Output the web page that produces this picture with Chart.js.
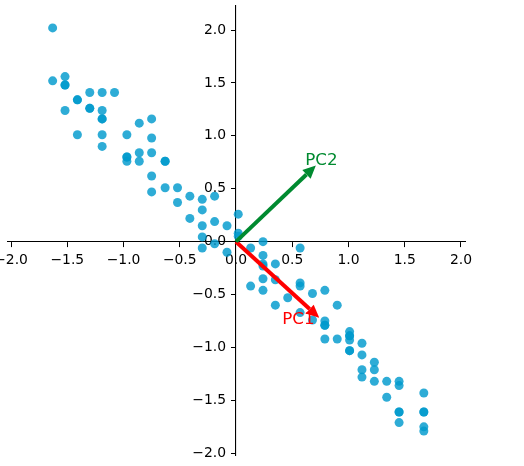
<!DOCTYPE html>
<html>
<head>
<meta charset="utf-8">
<script src="https://cdn.jsdelivr.net/npm/chart.js@4.4.1/dist/chart.umd.min.js"></script>
<style>
  html, body { margin: 0; padding: 0; background: #fff; }
  #area { width: 524px; height: 466px; }
</style>
</head>
<body>
<div id="area"><canvas id="grafico" width="524" height="466"></canvas></div>
<script>
// Pontos (pares repetidos = pontos sobrepostos)
const pontosX = [
  -1.63, -1.63, -1.52, -1.52, -1.52, -1.41, -1.41, -1.52, -1.30, -1.19,
  -1.08, -1.30, -1.30, -1.19, -1.19, -1.19, -1.41, -1.19, -1.19, -0.97,
  -0.86, -0.75, -0.75, -0.97, -0.97, -0.97, -0.86, -0.86, -0.75, -0.63,
  -0.63, -0.75, -0.75, -0.63, -0.52, -0.52, -0.41, -0.30, -0.19, -0.30,
  -0.41, -0.30, -0.19, -0.08, 0.02, 0.02, 0.02, -0.30, -0.30, -0.19,
  -0.08, 0.13, 0.24, 0.57, 0.24, 0.24, 0.24, 0.35, 0.24, 0.35,
  0.13, 0.24, 0.57, 0.57, 0.46, 0.35, 0.68, 0.79, 0.90, 0.57,
  0.68, 0.79, 0.79, 0.79, 0.79, 0.90, 1.01, 1.01, 1.01, 1.01,
  1.01, 1.01, 1.12, 1.12, 1.12, 1.12, 1.23, 1.23, 1.23, 1.34,
  1.34, 1.45, 1.45, 1.45, 1.45, 1.45, 1.67, 1.67, 1.67, 1.67,
  1.67
];
const pontosY = [
  2.02, 1.52, 1.56, 1.48, 1.48, 1.34, 1.34, 1.24, 1.41, 1.41,
  1.41, 1.26, 1.26, 1.24, 1.16, 1.16, 1.01, 1.01, 0.90, 1.01,
  1.12, 1.16, 0.98, 0.80, 0.80, 0.76, 0.84, 0.76, 0.84, 0.76,
  0.76, 0.62, 0.47, 0.51, 0.51, 0.37, 0.43, 0.40, 0.43, 0.30,
  0.22, 0.15, 0.19, 0.15, 0.26, 0.08, 0.05, 0.045, -0.06, -0.02,
  -0.10, -0.06, 0.00, -0.06, -0.13, -0.21, -0.23, -0.21, -0.35, -0.36,
  -0.42, -0.46, -0.39, -0.42, -0.53, -0.60, -0.49, -0.46, -0.60, -0.67,
  -0.74, -0.75, -0.79, -0.79, -0.92, -0.92, -0.85, -0.89, -0.89, -0.93,
  -1.03, -1.03, -0.96, -1.07, -1.21, -1.28, -1.14, -1.21, -1.32, -1.32,
  -1.47, -1.32, -1.36, -1.61, -1.61, -1.71, -1.43, -1.61, -1.61, -1.75,
  -1.79
];

// Setas das componentes principais
const setaNomes = ['PC1', 'PC2'];
const setaFimX = [0.74, 0.71];
const setaFimY = [-0.72, 0.72];
const rotuloX = [0.555, 0.76];
const rotuloY = [-0.74, 0.77];
const setaCores = ['#ff0000', '#008a30'];

// Marcas dos eixos
const ticksX = [-2.0, -1.5, -1.0, -0.5, 0.0, 0.5, 1.0, 1.5, 2.0];
const ticksY = [-2.0, -1.5, -1.0, -0.5, 0.0, 0.5, 1.0, 1.5, 2.0];

Chart.defaults.font.family = '"DejaVu Sans", sans-serif';

function formatar(v) {
  return v.toFixed(1).replace('-', '\u2212');
}

// Desenha as setas e os rótulos por cima dos pontos
const pluginSetas = {
  id: 'setas',
  afterLayout(chart) {
    // eixo y passa pelo x = 0 (left = 0 para não cortar os rótulos)
    const { x, y } = chart.scales;
    y.left = 0;
    y.right = x.getPixelForValue(0);
    y._labelItems = null;
    y._gridLineItems = null;
  },
  afterDatasetsDraw(chart) {
    const { ctx, scales: { x, y } } = chart;
    ctx.save();
    setaNomes.forEach((nome, i) => {
      const x0 = x.getPixelForValue(0);
      const y0 = y.getPixelForValue(0);
      const x1 = x.getPixelForValue(setaFimX[i]);
      const y1 = y.getPixelForValue(setaFimY[i]);
      const ang = Math.atan2(y1 - y0, x1 - x0);
      const compCabeca = 13;
      const meiaLarg = 6;
      const bx = x1 - compCabeca * Math.cos(ang);
      const by = y1 - compCabeca * Math.sin(ang);

      ctx.strokeStyle = setaCores[i];
      ctx.fillStyle = setaCores[i];
      ctx.lineWidth = 4;
      ctx.lineCap = 'butt';
      ctx.beginPath();
      ctx.moveTo(x0, y0);
      ctx.lineTo(bx, by);
      ctx.stroke();

      ctx.beginPath();
      ctx.moveTo(x1, y1);
      ctx.lineTo(bx + meiaLarg * Math.sin(ang), by - meiaLarg * Math.cos(ang));
      ctx.lineTo(bx - meiaLarg * Math.sin(ang), by + meiaLarg * Math.cos(ang));
      ctx.closePath();
      ctx.fill();

      ctx.font = '16.7px "DejaVu Sans"';
      ctx.textAlign = 'center';
      ctx.textBaseline = 'middle';
      ctx.fillText(nome, x.getPixelForValue(rotuloX[i]), y.getPixelForValue(rotuloY[i]));
    });
    ctx.restore();
  }
};

function zerarEspaco(s) {
  if (s.isHorizontal()) s.height = 0; else s.width = 0;
  s.paddingLeft = 0;
  s.paddingRight = 0;
  s.paddingTop = 0;
  s.paddingBottom = 0;
}

new Chart(document.getElementById('grafico'), {
  type: 'scatter',
  data: {
    datasets: [{
      data: pontosX.map((v, i) => ({ x: v, y: pontosY[i] })),
      backgroundColor: 'rgba(0,154,205,0.82)',
      borderWidth: 0,
      pointRadius: 4.5,
      pointHoverRadius: 4.5
    }]
  },
  options: {
    responsive: false,
    animation: false,
    layout: { padding: { left: 8, right: 59, top: 6, bottom: 11 } },
    plugins: { legend: { display: false }, tooltip: { enabled: false } },
    scales: {
      x: {
        type: 'linear',
        min: -2.027,
        max: 2.036,
        position: { y: 0 },
        afterBuildTicks: s => { s.ticks = ticksX.map(v => ({ value: v })); },
        afterFit: zerarEspaco,
        ticks: {
          callback: v => formatar(v),
          font: { size: 13.9 },
          color: '#000',
          padding: 5,
          maxRotation: 0,
          autoSkip: false
        },
        grid: { drawOnChartArea: false, drawTicks: true, tickLength: 5, color: '#000', lineWidth: 1 },
        border: { display: true, color: '#000', width: 1.1 }
      },
      y: {
        type: 'linear',
        min: -2.016,
        max: 2.227,
        position: 'left',
        afterBuildTicks: s => { s.ticks = ticksY.map(v => ({ value: v })); },
        afterFit: zerarEspaco,
        ticks: {
          callback: v => formatar(v),
          font: { size: 13.9 },
          color: '#000',
          padding: 5,
          autoSkip: false
        },
        grid: { drawOnChartArea: false, drawTicks: true, tickLength: 5, color: '#000', lineWidth: 1 },
        border: { display: true, color: '#000', width: 1.1 }
      }
    }
  },
  plugins: [pluginSetas]
});
</script>
</body>
</html>
